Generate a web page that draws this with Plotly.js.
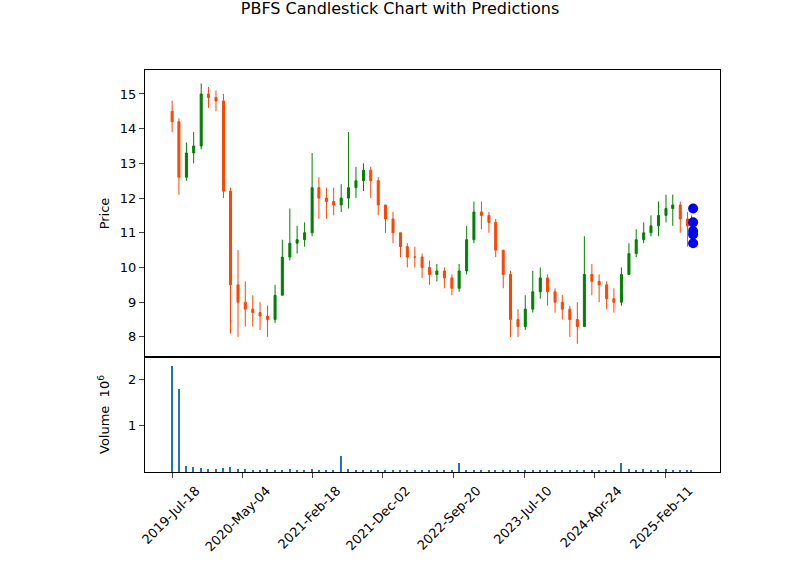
<html><head><script src="https://cdn.plot.ly/plotly-3.0.1.min.js"></script></head><body style="margin:0">
<div id="c" style="width:800px;height:575px"></div>
<script>
const dates=["2019-07-18","2019-08-15","2019-09-15","2019-10-15","2019-11-15","2019-12-15","2020-01-15","2020-02-15","2020-03-15","2020-04-15","2020-05-15","2020-06-15","2020-07-15","2020-08-15","2020-09-15","2020-10-15","2020-11-15","2020-12-15","2021-01-15","2021-02-15","2021-03-15","2021-04-15","2021-05-15","2021-06-15","2021-07-15","2021-08-15","2021-09-15","2021-10-15","2021-11-15","2021-12-15","2022-01-15","2022-02-15","2022-03-15","2022-04-15","2022-05-15","2022-06-15","2022-07-15","2022-08-15","2022-09-15","2022-10-15","2022-11-15","2022-12-15","2023-01-15","2023-02-15","2023-03-15","2023-04-15","2023-05-15","2023-06-15","2023-07-15","2023-08-15","2023-09-15","2023-10-15","2023-11-15","2023-12-15","2024-01-15","2024-02-15","2024-03-15","2024-04-15","2024-05-15","2024-06-15","2024-07-15","2024-08-15","2024-09-15","2024-10-15","2024-11-15","2024-12-15","2025-01-15","2025-02-15","2025-03-15","2025-04-15","2025-05-15","2025-06-01"];
const close=[14.2,12.6,13.3,13.5,15.0,14.9,14.8,12.2,9.5,9.0,8.8,8.7,8.6,8.5,9.2,10.3,10.7,10.8,11.0,12.3,12.0,11.9,11.8,12.0,12.3,12.5,12.8,12.5,11.8,11.4,11.0,10.6,10.3,10.3,10.0,9.8,9.9,9.7,9.4,9.9,10.8,11.6,11.5,11.3,10.5,9.8,8.5,8.3,8.8,9.3,9.7,9.3,9.0,8.8,8.5,8.3,9.8,9.6,9.5,9.1,9.0,9.8,10.4,10.8,11.0,11.2,11.5,11.7,11.8,11.4,11.2,11.3];
const open=[14.5].concat(close.slice(0,-1));
const high=[14.8,14.3,13.6,13.9,15.3,15.2,15.1,15.0,12.3,10.5,9.6,9.2,9.0,8.9,9.5,10.8,11.7,11.2,11.3,13.3,12.6,12.3,12.3,12.4,13.9,12.9,13.0,12.9,12.6,11.8,11.6,11.0,10.7,10.6,10.4,10.2,10.1,10.0,9.8,10.1,11.2,11.9,11.9,11.6,11.4,10.1,9.9,8.8,9.2,9.9,10.0,9.8,9.4,9.2,8.9,9.0,10.9,10.1,9.8,9.6,9.4,10.0,10.7,11.1,11.3,11.5,11.9,12.1,12.1,11.9,11.6,11.5];
const low=[13.9,12.1,12.5,13.0,13.4,14.6,14.5,12.0,8.1,8.0,8.3,8.3,8.2,8.0,8.4,9.2,10.2,10.4,10.6,10.9,11.4,11.4,11.5,11.6,11.7,12.0,12.2,12.0,11.5,11.0,10.7,10.3,10.0,10.0,9.7,9.5,9.6,9.4,9.2,9.3,9.8,10.7,11.1,11.0,10.3,9.4,8.0,8.0,8.2,8.7,9.1,8.9,8.7,8.5,8.0,7.8,8.3,9.2,9.0,8.8,8.7,8.9,9.8,10.3,10.7,10.9,10.9,11.3,11.2,11.0,10.6,10.7];
const volume=[2.28,1.8,0.12,0.1,0.08,0.07,0.07,0.08,0.1,0.07,0.06,0.05,0.05,0.06,0.05,0.05,0.06,0.05,0.05,0.06,0.05,0.05,0.04,0.35,0.06,0.05,0.04,0.04,0.05,0.04,0.04,0.04,0.04,0.04,0.04,0.03,0.03,0.04,0.05,0.2,0.04,0.04,0.04,0.04,0.05,0.04,0.05,0.04,0.04,0.03,0.04,0.04,0.03,0.04,0.04,0.05,0.05,0.04,0.04,0.04,0.05,0.2,0.06,0.05,0.06,0.05,0.05,0.06,0.05,0.05,0.04,0.03];
const predDates=["2025-06-07","2025-06-07","2025-06-07","2025-06-07","2025-06-07"];
const predVals=[11.7,11.3,11.05,10.95,10.7];
const tickVals=["2019-07-18","2020-05-04","2021-02-18","2021-12-02","2022-09-20","2023-07-10","2024-04-24","2025-02-11"];
const tickText=["2019-Jul-18","2020-May-04","2021-Feb-18","2021-Dec-02","2022-Sep-20","2023-Jul-10","2024-Apr-24","2025-Feb-11"];
const axLine={showline:true,mirror:true,linecolor:'black',linewidth:1,ticks:'outside',showgrid:false,zeroline:false,tickfont:{size:13}};
Plotly.newPlot('c',[
 {type:'candlestick',x:dates,open,high,low,close,xaxis:'x',yaxis:'y',
  increasing:{line:{color:'green',width:1},fillcolor:'green'},decreasing:{line:{color:'#ff4500',width:1},fillcolor:'#ff4500'},showlegend:false},
 {type:'scatter',mode:'markers',x:predDates,y:predVals,marker:{color:'blue',size:10},xaxis:'x',yaxis:'y',showlegend:false},
 {type:'bar',x:dates,y:volume,marker:{color:'#1f77b4'},width:6*86400000,xaxis:'x2',yaxis:'y2',showlegend:false}
],{
 width:800,height:575,margin:{l:145,r:80,t:70,b:103},
 font:{family:'DejaVu Sans',color:'black'},paper_bgcolor:'white',plot_bgcolor:'white',
 title:{text:'PBFS Candlestick Chart with Predictions',x:0.5,y:0.995,yanchor:'top',font:{size:16}},
 xaxis:Object.assign({},axLine,{type:'date',range:['2019-03-28','2025-09-26'],domain:[0,1],anchor:'y',showticklabels:false,ticks:'',rangeslider:{visible:false},tickvals:tickVals}),
 yaxis:Object.assign({},axLine,{domain:[0.286,1],range:[7.42,15.69],tickvals:[8,9,10,11,12,13,14,15],title:{text:'Price',font:{size:13}}}),
 xaxis2:Object.assign({},axLine,{type:'date',range:['2019-03-28','2025-09-26'],anchor:'y2',tickvals:tickVals,ticktext:tickText,tickangle:-45,ticklabelshift:24}),
 yaxis2:Object.assign({},axLine,{domain:[0,0.286],range:[0,2.48],tickvals:[1,2],title:{text:'Volume  10<sup>6</sup>',font:{size:13}}}),
 bargap:0
},{displayModeBar:false});
</script></body></html>
